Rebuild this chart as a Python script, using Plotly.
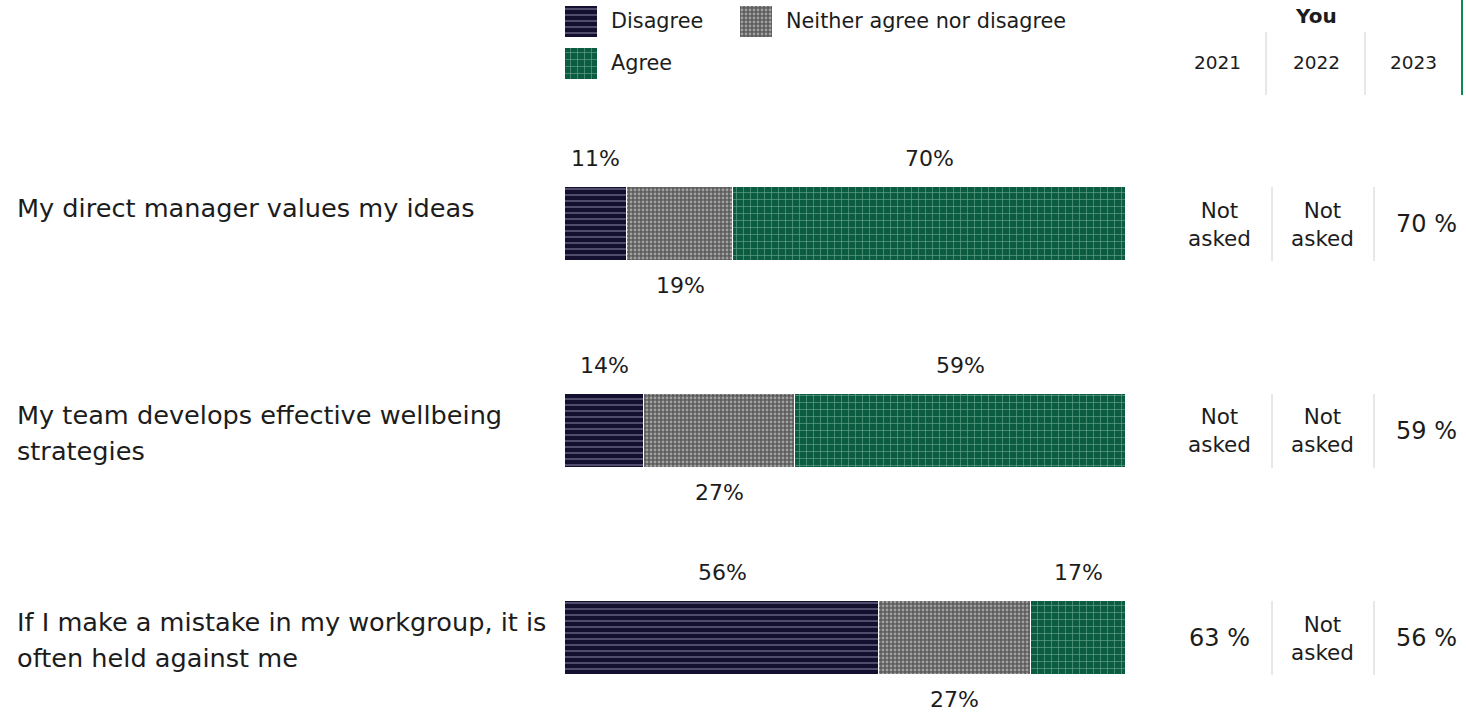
import plotly.graph_objects as go

# ---------------- data ----------------
questions = [
    "My direct manager values my ideas",
    "My team develops effective wellbeing<br>strategies",
    "If I make a mistake in my workgroup, it is<br>often held against me",
]
categories = ["Disagree", "Neither agree nor disagree", "Agree"]
disagree = [11, 14, 56]
neither = [19, 27, 27]
agree = [70, 59, 17]
years = ["2021", "2022", "2023"]
you_2021 = [None, None, 63]
you_2022 = [None, None, None]
you_2023 = [70, 59, 56]

# ---------------- styling ----------------
W, H = 1466, 713
FONT = "DejaVu Sans"
TXT = "#1c1c1c"
patterns = {
    "Disagree": dict(shape="-", bgcolor="#130f2e", fgcolor="#6e6b8c", size=6, solidity=0.22, fillmode="replace"),
    "Neither agree nor disagree": dict(shape=".", bgcolor="#5c5c5c", fgcolor="#a0a0a0", size=4, solidity=0.4, fillmode="replace"),
    "Agree": dict(shape="+", bgcolor="#0b5c40", fgcolor="#6fa893", size=7, solidity=0.16, fillmode="replace"),
}

def px(x):
    return x / W

def py(y):
    return 1 - y / H

# row geometry (in y data units, reversed axis, 1 unit = 207 px)
UNIT = 207.0
Y_TOP = -224 / UNIT
Y_BOT = Y_TOP + H / UNIT
BAR_W = 74 / UNIT
rows = list(range(len(questions)))

fig = go.Figure()
series = [disagree, neither, agree]
for name, vals in zip(categories, series):
    fig.add_trace(go.Bar(
        x=vals, y=rows, orientation="h", name=name, width=BAR_W,
        marker=dict(pattern=patterns[name], line=dict(color="white", width=1.5)),
        showlegend=False, hoverinfo="skip",
    ))

annotations = []
# value labels: disagree & agree above, neither below
for i in rows:
    cum = 0
    for k, vals in enumerate(series):
        v = vals[i]
        center = cum + v / 2
        cum += v
        above = (k != 1)
        annotations.append(dict(
            x=center, y=i + (-66 / UNIT if above else 61 / UNIT), xref="x", yref="y",
            text=f"{v}%", showarrow=False, font=dict(size=22, color=TXT, family=FONT),
            xanchor="center", yanchor="middle",
        ))

# question labels
for i, q in enumerate(questions):
    for j, line in enumerate(q.split("<br>")):
        yc = 224 + i * UNIT - 16 + j * 36
        annotations.append(dict(
            x=px(15), y=py(yc), xref="paper", yref="paper", text=line,
            showarrow=False, xanchor="left", yanchor="middle",
            font=dict(size=25.6, color=TXT, family=FONT),
        ))

# legend (custom swatches drawn as bars on an auxiliary pixel axis)
leg_pos = {"Disagree": (565, 21), "Neither agree nor disagree": (740, 21), "Agree": (565, 63)}
for name in categories:
    lx, ly = leg_pos[name]
    fig.add_trace(go.Bar(
        x=[32], y=[ly], base=[lx], orientation="h", width=31, xaxis="x2", yaxis="y2",
        marker=dict(pattern=patterns[name], line=dict(width=0)),
        showlegend=False, hoverinfo="skip",
    ))
    annotations.append(dict(
        x=px(lx + 44), y=py(ly), xref="paper", yref="paper", text=name,
        showarrow=False, xanchor="left", yanchor="middle",
        font=dict(size=20.8, color=TXT, family=FONT),
    ))

# table header
col_x = [1219, 1322, 1426]
annotations.append(dict(x=px(1316), y=py(16), xref="paper", yref="paper", text="<b>You</b>",
                        showarrow=False, xanchor="center", yanchor="middle",
                        font=dict(size=20, color=TXT, family=FONT)))
for cx, yr in zip([1217, 1316, 1413], years):
    annotations.append(dict(x=px(cx), y=py(63), xref="paper", yref="paper", text=yr,
                            showarrow=False, xanchor="center", yanchor="middle",
                            font=dict(size=18.5, color=TXT, family=FONT)))

# table cells
for i in rows:
    yc = 224 + i * UNIT
    for cx, col in zip(col_x, [you_2021, you_2022, you_2023]):
        v = col[i]
        txt = "Not<br>asked" if v is None else f"{v} %"
        annotations.append(dict(
            x=px(cx), y=py(yc), xref="paper", yref="paper", text=txt, showarrow=False,
            xanchor="center", yanchor="middle",
            font=dict(size=21.5 if v is None else 24, color=TXT, family=FONT),
        ))

shapes = []
for sx in [1266, 1365]:
    shapes.append(dict(type="line", xref="paper", yref="paper", x0=px(sx), x1=px(sx),
                       y0=py(32), y1=py(95), line=dict(color="#d0d0d0", width=1)))
shapes.append(dict(type="line", xref="paper", yref="paper", x0=px(1462), x1=px(1462),
                   y0=py(0), y1=py(95), line=dict(color="#0a8a4c", width=2)))
for i in rows:
    yc = 224 + i * UNIT
    for sx in [1272, 1374]:
        shapes.append(dict(type="line", xref="paper", yref="paper", x0=px(sx), x1=px(sx),
                           y0=py(yc - 37), y1=py(yc + 37), line=dict(color="#d0d0d0", width=1)))

fig.update_layout(
    width=W, height=H, margin=dict(l=0, r=0, t=0, b=0),
    paper_bgcolor="white", plot_bgcolor="rgba(0,0,0,0)", barmode="stack", bargap=0,
    font=dict(family=FONT, color=TXT),
    xaxis=dict(domain=[px(565), px(1126)], range=[0, 100], visible=False, fixedrange=True),
    yaxis=dict(domain=[0, 1], range=[Y_BOT, Y_TOP], visible=False, fixedrange=True),
    xaxis2=dict(domain=[0, 1], range=[0, W], visible=False, anchor="y2", fixedrange=True),
    yaxis2=dict(domain=[0, 1], range=[H, 0], visible=False, anchor="x2", fixedrange=True),
    annotations=annotations, shapes=shapes, showlegend=False,
)

fig.write_html("out.html", config={"displayModeBar": False},
               post_script="document.body.style.margin='0';")
